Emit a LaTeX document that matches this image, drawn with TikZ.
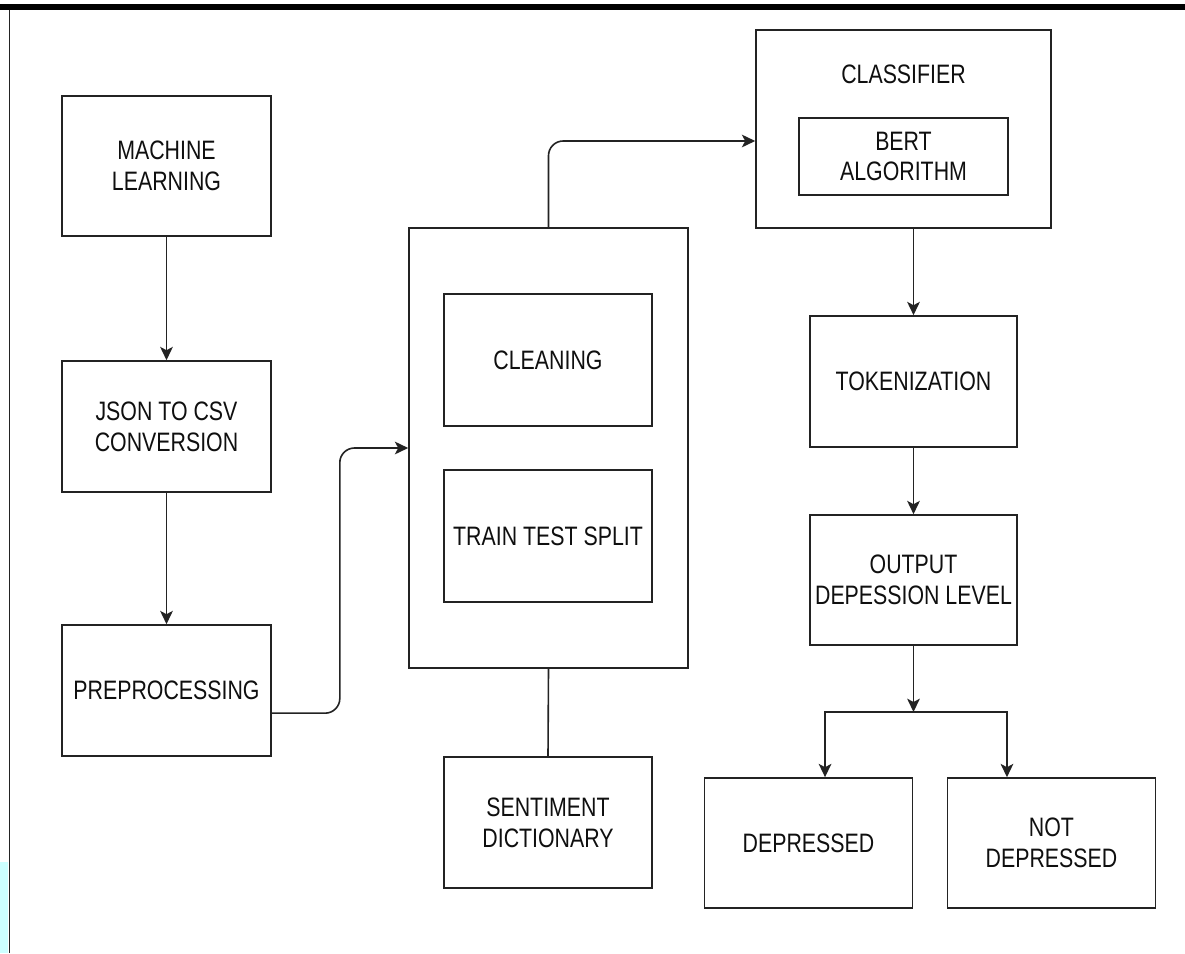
\documentclass[tikz,border=0pt]{standalone}
\usepackage{fontspec}
\setmainfont{Liberation Sans}[FakeStretch=0.8]
\usepackage{tikz}
\usetikzlibrary{arrows.meta}
\tikzstyle{canvas} = [x = .75pt, y = -.75pt]
\definecolor{lineColor}{RGB}{35,35,35}
\definecolor{textColor}{RGB}{15,15,15}
\definecolor{stripColor}{RGB}{204,255,255}
\tikzstyle{stageStyle} = [draw=lineColor, line width=1.2pt, fill=white, text=textColor, align=center, inner sep=0pt, font=\fontsize{20}{23}\selectfont]
\tikzstyle{stageText} = [text=textColor, inner sep=0pt, font=\fontsize{20}{23}\selectfont]
\tikzstyle{flowLine} = [draw=lineColor, line width=1.2pt]
\tikzstyle{flowArrow} = [flowLine, -{Stealth[length=10pt, width=9.5pt, inset=2.5pt]}]
\tikzstyle{bentArrow} = [flowArrow, rounded corners=11pt]
\newcommand{\stage}[6]{\node [stageStyle, minimum width=#4*.75pt, minimum height=#5*.75pt] (#1) at (#2,#3) {#6};}

\begin{document}
\begin{tikzpicture}[canvas]
  \useasboundingbox (0,0) rectangle (1185,953);
  % page frame
  \fill [black] (0,4) rectangle (1185,10);
  \draw [lineColor, line width=1.2pt] (9.5,10) -- (9.5,953);
  \fill [stripColor] (0,862) rectangle (8,953);

  % left column
  \stage{machine}{166.5}{166}{209}{140}{MACHINE\\LEARNING}
  \stage{json}{166.5}{426.5}{209}{131}{JSON TO CSV\\CONVERSION}
  \stage{preproc}{166.5}{690.5}{209}{131}{PREPROCESSING}

  % middle column
  \stage{bigBox}{548.5}{448}{279}{440}{}
  \stage{cleaning}{548}{360}{208}{132}{CLEANING}
  \stage{split}{548}{536}{208}{132}{TRAIN TEST SPLIT}
  \stage{sentiment}{548}{822.5}{208}{131}{SENTIMENT\\DICTIONARY}

  % right column
  \stage{classifier}{903.5}{129}{295}{198}{}
  \node [stageText] (classifierLabel) at (903.5,74) {CLASSIFIER};
  \stage{bert}{903.5}{156.5}{209}{77}{BERT\\ALGORITHM}
  \stage{token}{913.5}{381.5}{207}{131}{TOKENIZATION}
  \stage{output}{913.5}{580}{207}{130}{OUTPUT\\DEPESSION LEVEL}
  \stage{dep}{808.5}{843}{208}{130}{DEPRESSED}
  \stage{notdep}{1051.5}{843}{208}{130}{NOT\\DEPRESSED}

  % connectors
  \draw [flowArrow] (machine) -- (json);
  \draw [flowArrow] (json) -- (preproc);
  \draw [bentArrow] ([yshift=-17pt]preproc.east) -- ++(68,0) |- (bigBox.west);
  \draw [bentArrow] (bigBox.north) |- ([yshift=-9pt]classifier.west);
  \draw [flowLine] (bigBox.south) -- (sentiment.north);
  \draw [flowArrow] (token.north |- classifier.south) -- (token);
  \draw [flowArrow] (token) -- (output);
  \coordinate (fork) at (913.5,712);
  \draw [flowArrow] (output) -- (fork);
  \draw [flowArrow] (fork) -| ([xshift=12.4pt]dep.north);
  \draw [flowArrow] (fork) -| ([xshift=-33.4pt]notdep.north);
\end{tikzpicture}
\end{document}
